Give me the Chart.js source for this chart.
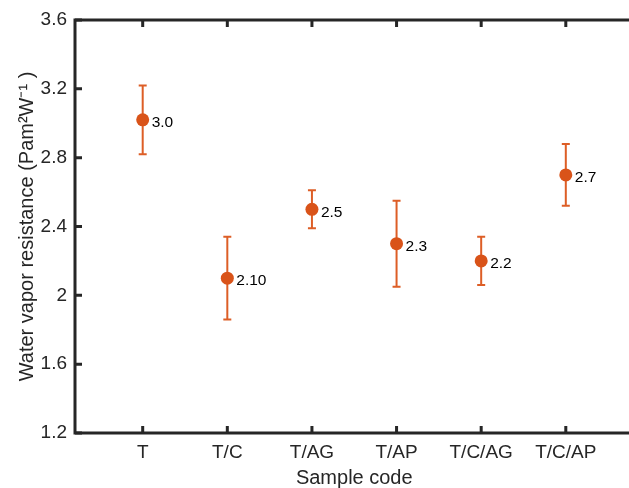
<!DOCTYPE html>
<html>
<head>
<meta charset="utf-8">
<script src="https://cdn.jsdelivr.net/npm/chart.js@4.4.1/dist/chart.umd.min.js"></script>
<style>
  html, body { margin: 0; padding: 0; background: #fff; overflow: hidden; }
  #wrap { width: 629px; height: 488px; overflow: hidden; }
</style>
</head>
<body>
<div id="wrap"><canvas id="chart" width="640" height="488"></canvas></div>
<script>
const categories = ["T", "T/C", "T/AG", "T/AP", "T/C/AG", "T/C/AP"];
const values = [3.02, 2.10, 2.50, 2.30, 2.20, 2.70];
const errUpper = [3.22, 2.34, 2.61, 2.55, 2.34, 2.88];
const errLower = [2.82, 1.86, 2.39, 2.05, 2.06, 2.52];
const valueLabels = ["3.0", "2.10", "2.5", "2.3", "2.2", "2.7"];
const yTicks = [1.2, 1.6, 2.0, 2.4, 2.8, 3.2, 3.6];

const orange = "#D95319";
const axisColor = "#262626";
const fontFamily = "'Liberation Sans', Arial, Helvetica, sans-serif";

// error bars, value labels and the boxed axes with inward ticks
const extras = {
  id: "extras",
  beforeDatasetsDraw(chart) {
    const { ctx, scales: { x, y } } = chart;
    ctx.save();
    ctx.strokeStyle = "#DD5E26";
    ctx.lineWidth = 2;
    values.forEach((v, i) => {
      const px = x.getPixelForValue(i);
      const top = y.getPixelForValue(errUpper[i]);
      const bot = y.getPixelForValue(errLower[i]);
      ctx.beginPath();
      ctx.moveTo(px, top); ctx.lineTo(px, bot);
      ctx.moveTo(px - 4, top); ctx.lineTo(px + 4, top);
      ctx.moveTo(px - 4, bot); ctx.lineTo(px + 4, bot);
      ctx.stroke();
    });
    ctx.restore();
  },
  afterDatasetsDraw(chart) {
    const { ctx, chartArea: a, scales: { x, y } } = chart;
    ctx.save();
    ctx.fillStyle = "#000";
    ctx.font = "15.5px " + fontFamily;
    ctx.textAlign = "left";
    ctx.textBaseline = "middle";
    values.forEach((v, i) => {
      ctx.fillText(valueLabels[i], x.getPixelForValue(i) + 9, y.getPixelForValue(v) + 3);
    });

    ctx.strokeStyle = axisColor;
    ctx.lineWidth = 3;
    ctx.lineCap = "square";
    ctx.beginPath();
    ctx.moveTo(a.left, a.top); ctx.lineTo(a.right, a.top);
    ctx.moveTo(a.left, a.bottom); ctx.lineTo(a.right, a.bottom);
    ctx.moveTo(a.left, a.top); ctx.lineTo(a.left, a.bottom);
    ctx.stroke();
    ctx.lineCap = "butt";
    ctx.beginPath();
    yTicks.forEach(t => {
      const py = y.getPixelForValue(t);
      ctx.moveTo(a.left, py); ctx.lineTo(a.left + 7, py);
    });
    categories.forEach((c, i) => {
      const px = x.getPixelForValue(i);
      ctx.moveTo(px, a.bottom); ctx.lineTo(px, a.bottom - 7);
      ctx.moveTo(px, a.top); ctx.lineTo(px, a.top + 7);
    });
    ctx.stroke();
    ctx.restore();
  }
};

new Chart(document.getElementById("chart"), {
  type: "scatter",
  data: {
    datasets: [{
      data: values.map((v, i) => ({ x: i, y: v })),
      backgroundColor: orange,
      borderColor: orange,
      pointRadius: 6.5,
      pointHoverRadius: 6.5,
      borderWidth: 0
    }]
  },
  options: {
    responsive: false,
    devicePixelRatio: 1,
    animation: false,
    layout: { padding: { top: 20, right: 4, left: 0, bottom: 0 } },
    plugins: { legend: { display: false }, tooltip: { enabled: false } },
    scales: {
      x: {
        type: "linear",
        min: -0.8,
        max: 5.8,
        afterBuildTicks: s => { s.ticks = categories.map((c, i) => ({ value: i })); },
        afterFit: s => { s.height = 55; },
        grid: { display: false, drawTicks: false },
        border: { display: false },
        ticks: {
          padding: 8,
          color: axisColor,
          font: { family: fontFamily, size: 19 },
          callback: v => categories[v]
        },
        title: {
          display: true,
          text: "Sample code",
          color: axisColor,
          font: { family: fontFamily, size: 20 },
          padding: { top: 0, bottom: -2 }
        }
      },
      y: {
        min: 1.2,
        max: 3.6,
        afterBuildTicks: s => { s.ticks = yTicks.map(v => ({ value: v })); },
        afterFit: s => { s.width = 75; },
        grid: { display: false, drawTicks: false },
        border: { display: false },
        ticks: {
          padding: 8,
          color: axisColor,
          font: { family: fontFamily, size: 19 },
          callback: v => String(Math.round(v * 10) / 10)
        },
        title: {
          display: true,
          text: "Water vapor resistance (Pam\u00B2W\u207B\u00B9 )",
          color: axisColor,
          font: { family: fontFamily, size: 20 },
          padding: { top: 15, bottom: 0 }
        }
      }
    }
  },
  plugins: [extras]
});
</script>
</body>
</html>
